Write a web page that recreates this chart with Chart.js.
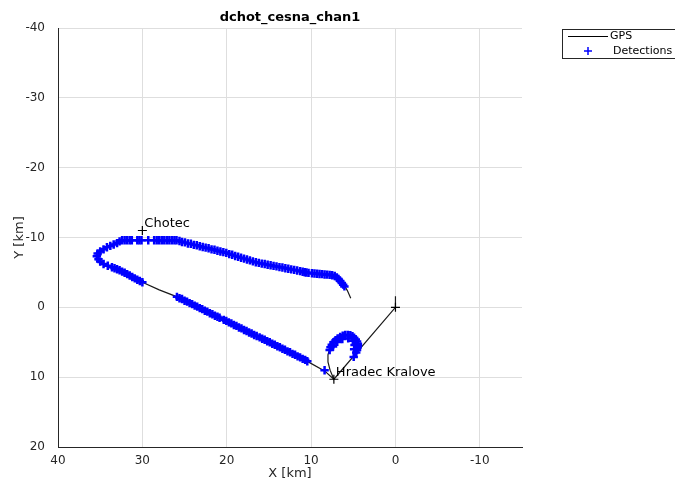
<!DOCTYPE html>
<html>
<head>
<meta charset="utf-8">
<script src="https://cdn.jsdelivr.net/npm/chart.js@4.4.1/dist/chart.umd.min.js"></script>
<style>
  html,body{margin:0;padding:0;background:#fff;}
  canvas{display:block;}
</style>
</head>
<body>
<canvas id="c" width="675" height="481" style="width:675px;height:481px"></canvas>
<script>
// ---- data ----
const chartTitle = 'dchot_cesna_chan1';
const xTicks = [40, 30, 20, 10, 0, -10];
const yTicks = [-40, -30, -20, -10, 0, 10, 20];

// GPS track (null = gap)
const gpsX = [0, 0, 7.3, 7.75, 8.0, 8.0, 7.8, 7.5, 7.1, 6.5, 5.9, 5.35, 4.9, 4.6, 4.5, 4.6, 4.95, null,
  7.3, 8.4, 10.5, 15.0, 20.8, 25.8, 28.0, 30.0, 31.2, 32.1, 33.3, 34.4, 35.0, 35.4, 35.2, 34.6, 33.8, 33.0, 32.4, 31.5, 28.0, 26.0, 25.4, 22.0, 20.0, 18.0, 16.1, 13.7, 10.2, 8.5, 7.5, 7.0, 6.6, 6.3, 6.0, 5.7, 5.3];
const gpsY = [-1.6, 0, 10.3, 9.0, 7.8, 6.8, 6.0, 5.2, 4.6, 4.1, 3.9, 4.0, 4.35, 4.85, 5.5, 6.2, 7.1, null,
  10.3, 9.1, 7.7, 5.0, 1.55, -1.46, -2.5, -3.6, -4.3, -5.0, -5.6, -6.1, -6.6, -7.2, -7.8, -8.3, -8.9, -9.3, -9.55, -9.6, -9.6, -9.6, -9.45, -8.4, -7.77, -7.05, -6.35, -5.76, -4.92, -4.72, -4.6, -4.35, -3.95, -3.5, -3.0, -2.4, -1.3];

// Detections
const detX = [
  35.2,35.4,35.3,35.0,34.6,34.2,33.8,33.4,33.0,32.7,
  32.4,32.1,31.8,31.5,31.25,30.6,30.35,30.1,29.3,28.6,28.3,28.0,27.7,27.4,27.1,26.8,26.5,26.2,25.95,
  25.6,25.3,24.95,24.6,24.25,23.9,23.55,23.2,22.85,22.5,22.15,21.8,21.45,21.1,20.75,20.4,20.05,19.7,19.35,19.0,18.65,18.3,17.95,17.6,17.25,16.9,16.55,16.2,15.85,15.5,15.15,14.8,14.45,14.1,13.75,13.4,13.05,12.7,12.35,12.0,11.65,11.3,11.0,10.75,10.55,10.3,9.9,9.6,9.3,9.0,8.7,8.4,8.1,7.8,7.5,7.2,6.95,6.75,6.55,6.35,6.2,6.05,
  35.0,34.6,34.1,33.6,33.3,33.0,32.7,32.4,32.1,31.8,31.5,31.2,30.9,30.6,30.3,30.0,
  25.9,25.6,25.3,25.0,24.7,24.4,24.1,23.8,23.5,23.2,22.9,22.6,22.3,22.0,21.7,21.4,21.1,20.85,
  20.35,20.05,19.75,19.45,19.15,18.85,18.55,18.25,17.95,17.65,17.35,17.05,16.75,16.45,16.1,15.8,15.5,15.2,14.9,14.6,14.3,14.0,13.7,13.4,13.1,12.8,12.5,12.2,11.9,11.6,11.3,11.0,10.7,10.45,
  8.4,
  7.8,7.7,7.55,7.35,7.1,6.85,6.55,6.25,5.95,5.65,5.35,5.1,4.9,4.7,4.55,4.45,4.45,4.5,4.55,4.65,7.4,6.9,6.3,5.6,5.05,4.85,4.9,4.95
];
const detY = [
  -6.9,-7.3,-7.7,-8.0,-8.3,-8.6,-8.8,-9.0,-9.2,-9.45,
  -9.6,-9.6,-9.6,-9.6,-9.6,-9.6,-9.6,-9.6,-9.6,-9.6,-9.6,-9.6,-9.6,-9.6,-9.6,-9.6,-9.6,-9.6,-9.6,
  -9.5,-9.35,-9.3,-9.15,-9.1,-8.95,-8.9,-8.75,-8.65,-8.55,-8.45,-8.3,-8.25,-8.1,-8.0,-7.9,-7.8,-7.62,-7.52,-7.36,-7.25,-7.1,-6.98,-6.85,-6.72,-6.58,-6.46,-6.36,-6.26,-6.2,-6.1,-6.03,-5.93,-5.86,-5.76,-5.7,-5.6,-5.52,-5.43,-5.36,-5.27,-5.19,-5.1,-5.03,-4.98,-4.93,-4.87,-4.84,-4.8,-4.78,-4.75,-4.71,-4.68,-4.65,-4.6,-4.48,-4.28,-4.05,-3.78,-3.5,-3.25,-3.0,
  -6.55,-6.2,-5.95,-5.75,-5.6,-5.45,-5.3,-5.12,-4.95,-4.75,-4.55,-4.35,-4.15,-3.95,-3.78,-3.6,
  -1.5,-1.3,-1.2,-0.95,-0.82,-0.6,-0.46,-0.24,-0.1,0.12,0.26,0.48,0.62,0.84,0.98,1.2,1.34,1.5,
  1.8,1.94,2.16,2.3,2.52,2.66,2.88,3.02,3.24,3.38,3.6,3.74,3.96,4.1,4.3,4.5,4.64,4.86,5.0,5.22,5.36,5.58,5.72,5.94,6.08,6.3,6.44,6.66,6.8,7.02,7.16,7.38,7.52,7.72,
  9.0,
  6.1,5.7,5.35,5.0,4.7,4.45,4.25,4.05,3.95,3.95,4.0,4.15,4.35,4.6,4.9,5.2,5.5,5.8,6.1,6.45,5.6,4.95,4.55,4.45,4.8,5.4,6.0,7.1
];

// Named places
const placeX = [30, 7.3, 0];
const placeY = [-11, 10.3, 0];
const placeNames = ['Chotec', 'Hradec Kralove', ''];

// ---- build ----
const toPts = (xs, ys) => xs.map((v, i) => ({x: v === null ? NaN : v, y: ys[i] === null ? NaN : ys[i]}));
const FONT = '"DejaVu Sans", "Liberation Sans", sans-serif';
const AX = '#262626';

const overlay = {
  id: 'overlay',
  afterDraw(chart) {
    const {ctx, chartArea: ca, scales: {x, y}} = chart;
    ctx.save();
    // title
    ctx.fillStyle = '#000';
    ctx.font = 'bold 13px ' + FONT;
    ctx.textAlign = 'center';
    ctx.textBaseline = 'middle';
    ctx.fillText(chartTitle, (ca.left + ca.right) / 2, 18);
    // axis titles
    ctx.fillStyle = AX;
    ctx.font = '13px ' + FONT;
    ctx.fillText('X [km]', (ca.left + ca.right) / 2, 474);
    ctx.save();
    ctx.translate(20, (ca.top + ca.bottom) / 2);
    ctx.rotate(-Math.PI / 2);
    ctx.fillText('Y [km]', 0, 0);
    ctx.restore();
    // place labels
    ctx.fillStyle = '#000';
    ctx.font = '13px ' + FONT;
    ctx.textAlign = 'left';
    placeNames.forEach((n, i) => {
      if (!n) return;
      ctx.fillText(n, x.getPixelForValue(placeX[i]) + 2, y.getPixelForValue(placeY[i]) - 7);
    });
    // legend
    ctx.fillStyle = '#fff';
    ctx.fillRect(562.5, 29.5, 130, 29);
    ctx.strokeStyle = '#262626';
    ctx.lineWidth = 1;
    ctx.strokeRect(562.5, 29.5, 130, 29);
    ctx.beginPath();
    ctx.strokeStyle = '#000';
    ctx.moveTo(568, 36.5); ctx.lineTo(608, 36.5);
    ctx.stroke();
    ctx.beginPath();
    ctx.strokeStyle = '#0000ff';
    ctx.lineWidth = 1.5;
    ctx.moveTo(584, 51); ctx.lineTo(592, 51);
    ctx.moveTo(588, 47); ctx.lineTo(588, 55);
    ctx.stroke();
    ctx.fillStyle = '#000';
    ctx.font = '11px ' + FONT;
    ctx.textBaseline = 'middle';
    ctx.fillText('GPS', 610, 36);
    ctx.fillText('Detections', 613, 51);
    ctx.restore();
  }
};

new Chart(document.getElementById('c'), {
  type: 'scatter',
  data: {
    datasets: [
      {label: 'places', data: toPts(placeX, placeY), order: 0, pointStyle: 'cross', pointRadius: 4.5,
       borderColor: '#000', borderWidth: 1.2, showLine: false},
      {label: 'Detections', data: toPts(detX, detY), order: 1, pointStyle: 'cross', pointRadius: 4.2,
       borderColor: '#0000ff', backgroundColor: '#0000ff', borderWidth: 2.5, showLine: false},
      {label: 'GPS', data: toPts(gpsX, gpsY), order: 2, showLine: true, spanGaps: false, pointRadius: 0,
       borderColor: '#1a1a1a', borderWidth: 1.2, tension: 0}
    ]
  },
  options: {
    responsive: false,
    animation: false,
    events: [],
    layout: {padding: {left: 0, top: 28, right: 153, bottom: 0}},
    plugins: {legend: {display: false}, title: {display: false}, tooltip: {enabled: false}},
    scales: {
      x: {
        type: 'linear', min: -15, max: 40, reverse: true,
        afterBuildTicks: s => { s.ticks = xTicks.map(v => ({value: v})); },
        afterFit: s => { s.height = 34; },
        grid: {color: '#dedede', lineWidth: 1, tickLength: 0},
        border: {color: AX, width: 1},
        ticks: {color: AX, font: {family: FONT, size: 12}, padding: 7, maxRotation: 0}
      },
      y: {
        type: 'linear', min: -40, max: 20, reverse: true,
        afterBuildTicks: s => { s.ticks = yTicks.map(v => ({value: v})); },
        afterFit: s => { s.width = 58; },
        grid: {color: '#dedede', lineWidth: 1, tickLength: 0},
        border: {color: AX, width: 1},
        ticks: {color: AX, font: {family: FONT, size: 12}, padding: 13}
      }
    }
  },
  plugins: [overlay]
});
</script>
</body>
</html>
